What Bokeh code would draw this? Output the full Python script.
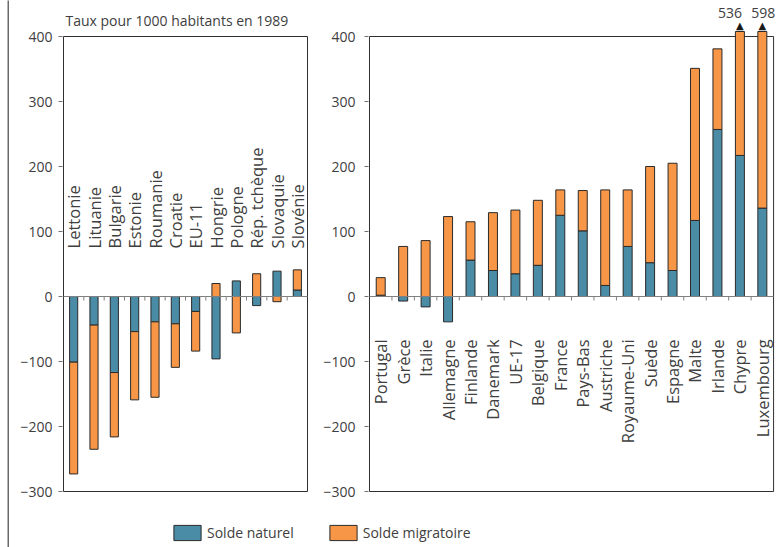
import numpy as np
from bokeh.plotting import figure
from bokeh.models import (Range1d, SingleIntervalTicker, Legend, LegendItem, Spacer)
from bokeh.layouts import row, column
from bokeh.core.properties import value
from bokeh.embed import file_html
from bokeh.resources import INLINE

# ---------------- data ----------------
countries_est = ["Lettonie", "Lituanie", "Bulgarie", "Estonie", "Roumanie", "Croatie",
                 "EU-11", "Hongrie", "Pologne", "Rép. tchèque", "Slovaquie", "Slovénie"]
naturel_est = [-101, -44, -117, -54, -39, -42, -23, -96, 24, -14, 39, 10]
migratoire_est = [-172, -191, -99, -105, -116, -67, -61, 20, -56, 35, -8, 31]

countries_ouest = ["Portugal", "Grèce", "Italie", "Allemagne", "Finlande", "Danemark",
                   "UE-17", "Belgique", "France", "Pays-Bas", "Austriche", "Royaume-Uni",
                   "Suède", "Espagne", "Malte", "Irlande", "Chypre", "Luxembourg"]
naturel_ouest = [2, -7, -16, -39, 56, 40, 35, 48, 125, 101, 17, 77, 52, 40, 117, 257, 217, 136]
migratoire_ouest = [27, 77, 86, 123, 59, 89, 98, 100, 39, 62, 147, 87, 148, 165, 234, 124, 319, 462]

y_min, y_max = -300, 400
title_text = "Taux pour 1000 habitants en 1989"
series_names = ["Solde naturel", "Solde migratoire"]

# ---------------- style ----------------
BLUE = "#4A8BA6"
ORANGE = "#F79646"
EDGE = "#2a2a2a"
FRAME = "#303030"
TXT = "#404040"
FONT = "Open Sans"
TOP = 36           # px above the 400 line
BOTTOM = 14        # px below the -300 line
FRAME_H = 455      # px between -300 and 400
PX = FRAME_H / (y_max - y_min)   # px per unit
PAD_B = 1


def stacks(nat, mig):
    nat = np.array(nat, dtype=float)
    mig = np.array(mig, dtype=float)
    same = np.sign(mig) == np.sign(nat)
    mig_bottom = np.where(same, nat, 0.0)
    mig_top = mig_bottom + mig
    stack_top = np.maximum(np.maximum(nat, mig_top), 0)
    return nat, mig_bottom, mig_top, stack_top


def make_panel(countries, nat_vals, mig_vals, fig_w, box_left, box_right, pad_l, pad_r,
               label_y, label_align, tick_standoff):
    n = len(countries)
    nat, mig_bottom, mig_top, stack_top = stacks(nat_vals, mig_vals)
    x = np.arange(n)
    ppc = (box_right - box_left) / n
    p = figure(width=fig_w, height=TOP + FRAME_H + BOTTOM,
               x_range=Range1d(-0.5 - pad_l / ppc, n - 0.5 + pad_r / ppc),
               y_range=Range1d(y_min - PAD_B / PX, y_max + TOP / PX),
               output_backend="svg", toolbar_location=None,
               min_border_left=box_left - pad_l, min_border_right=fig_w - box_right - pad_r,
               min_border_top=0, min_border_bottom=BOTTOM - PAD_B, outline_line_color=None)
    p.xgrid.visible = False
    p.ygrid.visible = False
    p.xaxis.visible = False

    # plot-area box, drawn below the bars
    p.segment(x0=[-0.5, n - 0.5, -0.5, -0.5], x1=[-0.5, n - 0.5, n - 0.5, n - 0.5],
              y0=[y_min, y_min, y_min, y_max], y1=[y_max, y_max, y_min, y_max],
              line_color=FRAME, line_width=1, level="underlay")

    cap = y_max + 5 / PX
    p.vbar(x=x, bottom=0, top=np.minimum(nat, cap), width=0.4, fill_color=BLUE,
           line_color=EDGE, line_width=1)
    p.vbar(x=x, bottom=mig_bottom, top=np.minimum(mig_top, cap), width=0.4,
           fill_color=ORANGE, line_color=EDGE, line_width=1)

    p.text(x=x, y=[label_y] * n, text=countries, angle=np.pi / 2, text_align=label_align,
           text_baseline="middle", text_font=value(FONT), text_font_size="16.5px",
           text_color=TXT)

    # zero line + ticks between categories
    p.segment(x0=[-0.5], x1=[n - 0.5], y0=[0], y1=[0], line_color="#808080", line_width=1)
    bounds = np.arange(1, n) - 0.5
    p.segment(x0=bounds, x1=bounds, y0=0, y1=-4 / PX, line_color="#808080", line_width=1)

    # values beyond the axis maximum
    over = np.nonzero(stack_top > y_max)[0]
    if len(over):
        p.text(x=over, y=[cap] * len(over), text=["▲"] * len(over), y_offset=-1,
               text_align="center", text_baseline="bottom", text_font=value("DejaVu Sans"),
               text_font_size="10px", text_color="#1a1a1a")
        p.text(x=over, y=[y_max] * len(over), text=[str(int(v)) for v in stack_top[over]],
               y_offset=-24, x_offset=[-10, 1][:len(over)], text_align="center",
               text_baseline="middle", text_font=value(FONT), text_font_size="14px",
               text_color=TXT)

    ya = p.yaxis[0]
    ya.ticker = SingleIntervalTicker(interval=100, num_minor_ticks=0)
    ya.major_tick_in = 0
    ya.major_tick_out = 4
    ya.minor_tick_line_color = None
    ya.axis_line_color = None
    ya.major_tick_line_color = "#707070"
    ya.major_label_text_font = FONT
    ya.major_label_text_font_size = "14px"
    ya.major_label_text_color = TXT
    ya.major_label_standoff = tick_standoff + pad_l
    return p


left = make_panel(countries_est, naturel_est, migratoire_est, 311, 54, 298, 1, 1,
                  74, "left", 5)
left.text(x=[-0.5], y=[y_max], text=[title_text], x_offset=2, y_offset=-16,
          text_align="left", text_baseline="middle", text_font=value(FONT),
          text_font_size="14px", text_color=TXT)

right = make_panel(countries_ouest, naturel_ouest, migratoire_ouest, 458, 43, 453, 1, 5,
                   -66, "right", 8)

# ---------------- legend strip ----------------
lf = figure(width=769, height=42, x_range=Range1d(0, 1), y_range=Range1d(0, 1),
            min_border=0, toolbar_location=None, output_backend="svg",
            outline_line_color=None)
lf.axis.visible = False
lf.xgrid.visible = False
lf.ygrid.visible = False
r1 = lf.vbar(x=[-5], bottom=[-5], top=[-4], width=0.1, fill_color=BLUE, line_color=EDGE)
r2 = lf.vbar(x=[-5], bottom=[-5], top=[-4], width=0.1, fill_color=ORANGE, line_color=EDGE)
legend = Legend(items=[LegendItem(label=series_names[0], renderers=[r1]),
                       LegendItem(label=series_names[1], renderers=[r2])],
                orientation="horizontal", location=(161, 5), glyph_width=34,
                glyph_height=19, label_text_font=FONT, label_text_font_size="14px",
                label_text_color=TXT, spacing=32, padding=0, margin=0,
                border_line_color=None, background_fill_alpha=0, label_standoff=3)
lf.add_layout(legend)

# ---------------- left border line ----------------
bf = figure(width=2, height=547, x_range=Range1d(0, 1), y_range=Range1d(0, 1),
            min_border=0, toolbar_location=None, output_backend="svg",
            outline_line_color=None, background_fill_color="#6a6a6a",
            border_fill_color="#6a6a6a")
bf.axis.visible = False
bf.xgrid.visible = False
bf.ygrid.visible = False

layout = row(Spacer(width=7, height=547), bf, column(row(left, right), lf))

open("out.html", "w").write(file_html(layout, INLINE))
